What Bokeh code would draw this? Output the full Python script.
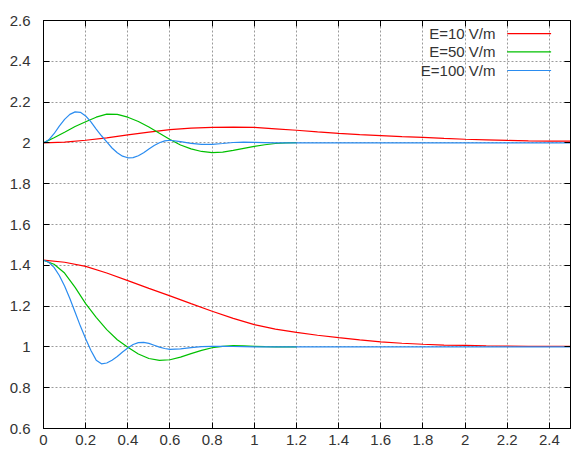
from bokeh.plotting import figure
from bokeh.models import Range1d, FixedTicker, LinearAxis, Label, CustomLabelingPolicy
from bokeh.embed import file_html
from bokeh.resources import INLINE

# ---------------- data ----------------
x_ticks = [0, 0.2, 0.4, 0.6, 0.8, 1.0, 1.2, 1.4, 1.6, 1.8, 2.0, 2.2, 2.4]
x_tick_labels = ["0", "0.2", "0.4", "0.6", "0.8", "1", "1.2", "1.4", "1.6", "1.8", "2", "2.2", "2.4"]
y_ticks = [0.6, 0.8, 1.0, 1.2, 1.4, 1.6, 1.8, 2.0, 2.2, 2.4, 2.6]
y_tick_labels = ["0.6", "0.8", "1", "1.2", "1.4", "1.6", "1.8", "2", "2.2", "2.4", "2.6"]

series_names = ["E=10 V/m", "E=50 V/m", "E=100 V/m"]

# E=10 V/m (red)
x_red = [0, 0.1, 0.2, 0.3, 0.4, 0.5, 0.6, 0.7, 0.8, 0.9, 1.0, 1.1, 1.2, 1.3, 1.4,
         1.5, 1.6, 1.7, 1.8, 1.9, 2.0, 2.1, 2.2, 2.3, 2.4, 2.5]
red_upper = [2.000, 2.004, 2.013, 2.025, 2.039, 2.053, 2.065, 2.072, 2.076, 2.077, 2.076,
             2.069, 2.062, 2.054, 2.047, 2.041, 2.036, 2.031, 2.027, 2.022, 2.018, 2.015,
             2.012, 2.010, 2.009, 2.009]
red_lower = [1.425, 1.415, 1.395, 1.362, 1.325, 1.287, 1.250, 1.212, 1.175, 1.140, 1.109,
             1.087, 1.071, 1.057, 1.045, 1.034, 1.025, 1.018, 1.013, 1.009, 1.007, 1.005,
             1.004, 1.003, 1.003, 1.003]

# E=50 V/m (green)
x_green = [0, 0.05, 0.1, 0.15, 0.2, 0.25, 0.3, 0.35, 0.4, 0.45, 0.5, 0.55, 0.6, 0.65,
           0.7, 0.75, 0.8, 0.85, 0.9, 0.95, 1.0, 1.05, 1.1, 1.15, 1.2]
green_upper = [2.000, 2.025, 2.052, 2.080, 2.104, 2.126, 2.141, 2.140, 2.126, 2.105, 2.078,
               2.047, 2.017, 1.990, 1.971, 1.958, 1.952, 1.955, 1.963, 1.973, 1.983, 1.991,
               1.997, 2.000, 2.001]
green_lower = [1.425, 1.405, 1.362, 1.292, 1.212, 1.145, 1.085, 1.035, 0.998, 0.965, 0.943,
               0.934, 0.937, 0.950, 0.967, 0.983, 0.996, 1.003, 1.006, 1.005, 1.003, 1.001,
               1.000, 1.000, 1.000]

# E=100 V/m (blue)
x_blue = [0, 0.025, 0.05, 0.075, 0.1, 0.125, 0.15, 0.175, 0.2, 0.225, 0.25, 0.275, 0.3,
          0.325, 0.35, 0.375, 0.4, 0.425, 0.45, 0.475, 0.5, 0.525, 0.55, 0.575, 0.6,
          0.65, 0.7, 0.75, 0.8, 0.85, 0.9, 0.95, 1.0, 1.1, 1.2, 1.6, 2.0, 2.5]
blue_upper = [2.000, 2.015, 2.045, 2.082, 2.115, 2.140, 2.152, 2.150, 2.132, 2.103, 2.068,
              2.035, 2.005, 1.975, 1.952, 1.935, 1.927, 1.928, 1.937, 1.952, 1.970, 1.987,
              2.001, 2.010, 2.013, 2.006, 1.998, 1.993, 1.993, 1.997, 2.002, 2.004, 2.003,
              2.000, 2.000, 2.000, 2.000, 2.000]
blue_lower = [1.425, 1.415, 1.390, 1.350, 1.298, 1.237, 1.170, 1.102, 1.040, 0.982, 0.935,
              0.917, 0.921, 0.935, 0.953, 0.975, 0.995, 1.012, 1.021, 1.022, 1.017, 1.008,
              0.999, 0.992, 0.988, 0.990, 0.996, 1.001, 1.003, 1.003, 1.002, 1.001, 1.000,
              1.000, 1.000, 1.000, 1.000, 1.000]

colors = ["#ff0000", "#00c000", "#2a8cf0"]

# ---------------- figure ----------------
FONT = "Liberation Sans"
p = figure(width=571, height=453, output_backend="svg", toolbar_location=None,
           x_range=Range1d(0, 2.5), y_range=Range1d(0.6, 2.6),
           min_border_left=43, min_border_right=1, min_border_top=20, min_border_bottom=25)
p.background_fill_color = "white"
p.border_fill_color = "white"
p.outline_line_color = "black"
p.outline_line_width = 1

for ax in (p.xaxis[0], p.yaxis[0]):
    ax.axis_line_color = "black"
    ax.major_tick_line_color = "black"
    ax.major_tick_in = 6
    ax.major_tick_out = 0
    ax.minor_tick_line_color = None
    ax.major_label_text_font = FONT
    ax.major_label_text_font_size = "15px"
    ax.major_label_text_color = "#333333"

p.xaxis[0].ticker = FixedTicker(ticks=x_ticks)
p.xaxis[0].major_label_overrides = {t: l for t, l in zip(x_ticks, x_tick_labels)}
p.xaxis[0].major_label_standoff = 6
p.yaxis[0].ticker = FixedTicker(ticks=y_ticks)
p.yaxis[0].major_label_overrides = {t: l for t, l in zip(y_ticks, y_tick_labels)}
p.yaxis[0].major_label_standoff = 13

# mirrored ticks on top and right (no labels)
for loc, tk in (("right", y_ticks), ("above", x_ticks)):
    ax = LinearAxis(ticker=FixedTicker(ticks=tk),
                    major_label_policy=CustomLabelingPolicy(code="return []"))
    ax.axis_line_color = "black"
    ax.major_tick_line_color = "black"
    ax.major_tick_in = 6
    ax.major_tick_out = 0
    ax.minor_tick_line_color = None
    ax.major_label_standoff = 0
    ax.major_label_text_font_size = "0px"
    p.add_layout(ax, loc)

p.xgrid.ticker = FixedTicker(ticks=x_ticks)
p.ygrid.ticker = FixedTicker(ticks=y_ticks)
for g in (p.xgrid[0], p.ygrid[0]):
    g.grid_line_color = "#9a9a9a"
    g.grid_line_dash = "2 2"
    g.grid_line_width = 1

# curves
p.line(x_red, red_upper, line_color=colors[0], line_width=1.2)
p.line(x_red, red_lower, line_color=colors[0], line_width=1.2)
p.line(x_green, green_upper, line_color=colors[1], line_width=1.2)
p.line(x_green, green_lower, line_color=colors[1], line_width=1.2)
p.line(x_blue, blue_upper, line_color=colors[2], line_width=1.2)
p.line(x_blue, blue_lower, line_color=colors[2], line_width=1.2)

# legend (gnuplot style: text, then line sample)
leg_text_x = 2.144
leg_line_x0, leg_line_x1 = 2.20, 2.408
leg_rows_y = [2.536, 2.446, 2.355]
for name, c, yy in zip(series_names, colors, leg_rows_y):
    p.add_layout(Label(x=leg_text_x, y=yy, text=name, text_align="right",
                       text_baseline="middle", text_font=FONT, text_font_size="15px",
                       text_color="#333333"))
    p.segment(x0=[leg_line_x0], y0=[yy], x1=[leg_line_x1], y1=[yy],
              line_color=c, line_width=1.2)

open("out.html", "w").write(file_html(p, INLINE))
